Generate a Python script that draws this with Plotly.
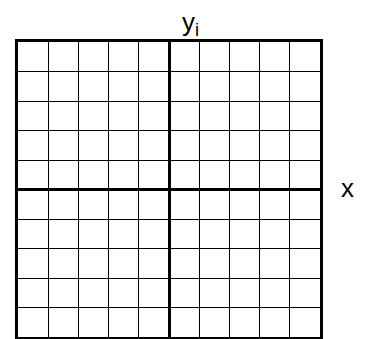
import plotly.graph_objects as go

# grid cells along each axis, center lines at 0
x_ticks = [-5, -4, -3, -2, -1, 0, 1, 2, 3, 4, 5]
y_ticks = [-5, -4, -3, -2, -1, 0, 1, 2, 3, 4, 5]
x_label = "x"
y_label = "y<sub>i</sub>"

fig = go.Figure()
# invisible trace so the axes have something to scale
fig.add_trace(go.Scatter(x=[x_ticks[0], x_ticks[-1]], y=[y_ticks[0], y_ticks[-1]],
                         mode="markers", marker=dict(opacity=0), hoverinfo="skip", showlegend=False))

axis_style = dict(showgrid=True, gridcolor="black", gridwidth=1,
                  zeroline=True, zerolinecolor="black", zerolinewidth=3,
                  showline=True, linecolor="black", linewidth=3, mirror=True,
                  showticklabels=False, ticks="", fixedrange=True)

fig.update_xaxes(range=[x_ticks[0], x_ticks[-1]], tickvals=x_ticks, **axis_style)
fig.update_yaxes(range=[y_ticks[0], y_ticks[-1]], tickvals=y_ticks, **axis_style)

fig.add_annotation(x=0.5, y=1, xref="paper", yref="paper", text=y_label, showarrow=False,
                   yanchor="bottom", yshift=0, xshift=21, font=dict(size=26, color="black"))
fig.add_annotation(x=1, y=0.5, xref="paper", yref="paper", text=x_label, showarrow=False,
                   xanchor="center", xshift=27, yshift=2, font=dict(size=26, color="black"))

fig.update_layout(width=365, height=339, margin=dict(l=10, r=53, t=34, b=10),
                  plot_bgcolor="white", paper_bgcolor="white",
                  font=dict(family="Liberation Sans, Arial, sans-serif"))
fig.write_html("out.html")
